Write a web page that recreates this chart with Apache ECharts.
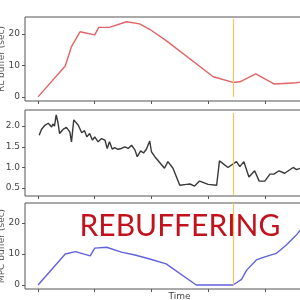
<!DOCTYPE html>
<html>
<head>
<meta charset="utf-8">
<script src="https://cdn.jsdelivr.net/npm/echarts@6/dist/echarts.min.js"></script>
<style>html,body{margin:0;padding:0;background:#fff}#c{width:300px;height:300px}</style>
</head>
<body>
<div id="c"></div>
<script>
// Panel 1: RL buffer
const rlTime   = [0, 0.48, 0.59, 0.74, 1.0, 1.07, 1.26, 1.56, 1.79, 1.97, 2.26, 3.09, 3.44, 3.56, 3.84, 4.17, 4.56, 4.62];
const rlBuffer = [0, 9.8, 16, 20.7, 19.7, 22.1, 22.1, 23.9, 23.2, 21.5, 17.9, 6.4, 4.6, 4.8, 7.3, 4.1, 4.5, 4.7];
// Panel 2: throughput
const tpTime = [0.02,0.06,0.12,0.18,0.24,0.26,0.29,0.32,0.35,0.38,0.44,0.50,0.56,0.59,0.63,0.71,0.77,0.82,0.86,0.91,0.96,1.0,1.06,1.12,1.18,1.22,1.26,1.31,1.35,1.41,1.47,1.53,1.59,1.65,1.71,1.75,1.81,1.86,1.91,1.97,2.0,2.06,2.23,2.29,2.38,2.50,2.62,2.68,2.76,2.85,3.0,3.15,3.2,3.35,3.5,3.56,3.63,3.72,3.82,3.9,4.0,4.09,4.16,4.25,4.35,4.5,4.56,4.62];
const tpValue = [1.78,1.92,2.02,2.07,1.98,2.05,2.0,2.27,2.1,1.82,1.92,1.97,1.86,1.62,2.15,2.02,1.84,1.89,1.74,1.82,1.66,1.74,1.62,1.70,1.66,1.46,1.62,1.44,1.48,1.44,1.46,1.50,1.46,1.54,1.42,1.26,1.40,1.35,1.44,1.64,1.38,1.26,0.98,1.14,0.98,0.57,0.59,0.60,0.55,0.67,0.59,0.57,1.16,1.0,1.14,1.02,1.14,0.77,0.92,0.67,0.67,0.84,0.84,0.92,0.86,1.0,0.95,0.98];
// Panel 3: MPC buffer
const mpcTime   = [0, 0.48, 0.66, 0.92, 1.0, 1.21, 1.47, 1.71, 1.97, 2.26, 2.79, 3.44, 3.59, 3.68, 3.85, 4.0, 4.2, 4.38, 4.56, 4.70];
const mpcBuffer = [0, 10.0, 10.8, 9.4, 11.9, 12.2, 10.6, 9.7, 8.4, 6.8, 0, 0, 1.8, 4.8, 8.1, 9.1, 10.2, 12.9, 16.2, 19.5];
// Event marker and ticks
const eventTime = 3.44;
const xTicks = [0, 1, 2, 3, 4, 5];
const bufferTicks = [0, 10, 20];
const tpTicks = [0.5, 1.0, 1.5, 2.0];
const yNames = ['RL buffer (sec)', 'Throughput (Mbps)', 'MPC buffer (sec)'];
const annotation = 'REBUFFERING';
const xName = 'Time';

const zip = (a, b) => a.map((v, i) => [v, b[i]]);
const tickColor = '#555';
const grids = [
  {left: 25, width: 309, top: 17, height: 84},
  {left: 25, width: 309, top: 110, height: 86},
  {left: 25, width: 309, top: 203, height: 86}
].map(g => Object.assign(g, {show: true, borderColor: '#555', borderWidth: 1, backgroundColor: 'transparent', containLabel: false, outerBoundsMode: 'none'}));

const xAxis = [0,1,2].map(i => ({
  type: 'value', gridIndex: i, min: -0.23, max: 5.22, position: 'bottom',
  axisLine: {show: false, onZero: false},
  splitLine: {show: false},
  axisTick: {show: true, inside: false, customValues: xTicks, length: 3, lineStyle: {color: tickColor}},
  axisLabel: {show: false},
  name: i === 2 ? xName : '', nameLocation: 'middle', nameGap: 3, nameMoveOverlap: false,
  nameTextStyle: {fontFamily: 'DejaVu Sans', fontSize: 9, color: '#444', verticalAlign: 'top'}
}));

const yRanges = [[-1.3, 25.4], [0.31, 2.39], [-1.3, 26.5]];
const yTicks = [bufferTicks, tpTicks, bufferTicks];
const yAxis = [0,1,2].map(i => ({
  type: 'value', gridIndex: i, min: yRanges[i][0], max: yRanges[i][1], position: 'left',
  axisLine: {show: false, onZero: false},
  splitLine: {show: false},
  axisTick: {show: true, inside: false, customValues: yTicks[i], length: 3, lineStyle: {color: tickColor}},
  axisLabel: {show: true, customValues: yTicks[i], margin: 5, fontFamily: 'DejaVu Sans', fontSize: 9, color: '#444',
    formatter: v => i === 1 ? v.toFixed(1) : String(v)},
  name: yNames[i], nameLocation: 'middle', nameGap: i === 1 ? 26 : 19, nameMoveOverlap: false,
  nameTextStyle: {fontFamily: 'DejaVu Sans', fontSize: 9, color: '#555'}
}));

const mark = (y0, y1) => ({
  silent: true, symbol: 'none', label: {show: false},
  lineStyle: {color: '#f7c15f', width: 1.2, type: 'solid'},
  data: [[{coord: [eventTime, y0]}, {coord: [eventTime, y1]}]]
});

const chart = echarts.init(document.getElementById('c'), null, {renderer: 'canvas'});
chart.setOption({
  animation: false,
  grid: grids,
  xAxis: xAxis,
  yAxis: yAxis,
  series: [
    {type: 'line', xAxisIndex: 0, yAxisIndex: 0, data: zip(rlTime, rlBuffer), symbol: 'none',
     lineStyle: {color: '#e06464', width: 1.4}, markLine: mark(0, 24.8)},
    {type: 'line', xAxisIndex: 1, yAxisIndex: 1, data: zip(tpTime, tpValue), symbol: 'none',
     lineStyle: {color: '#383838', width: 1.4}, markLine: mark(0.33, 2.32)},
    {type: 'line', xAxisIndex: 2, yAxisIndex: 2, data: zip(mpcTime, mpcBuffer), symbol: 'none',
     lineStyle: {color: '#6262dc', width: 1.4}, markLine: mark(0, 26.5)}
  ],
  graphic: [{
    type: 'text', x: 180, y: 226, z: 10,
    style: {text: annotation, fill: '#c2121c', font: '30px Lato', textAlign: 'center', textVerticalAlign: 'middle'}
  }]
});
</script>
</body>
</html>
